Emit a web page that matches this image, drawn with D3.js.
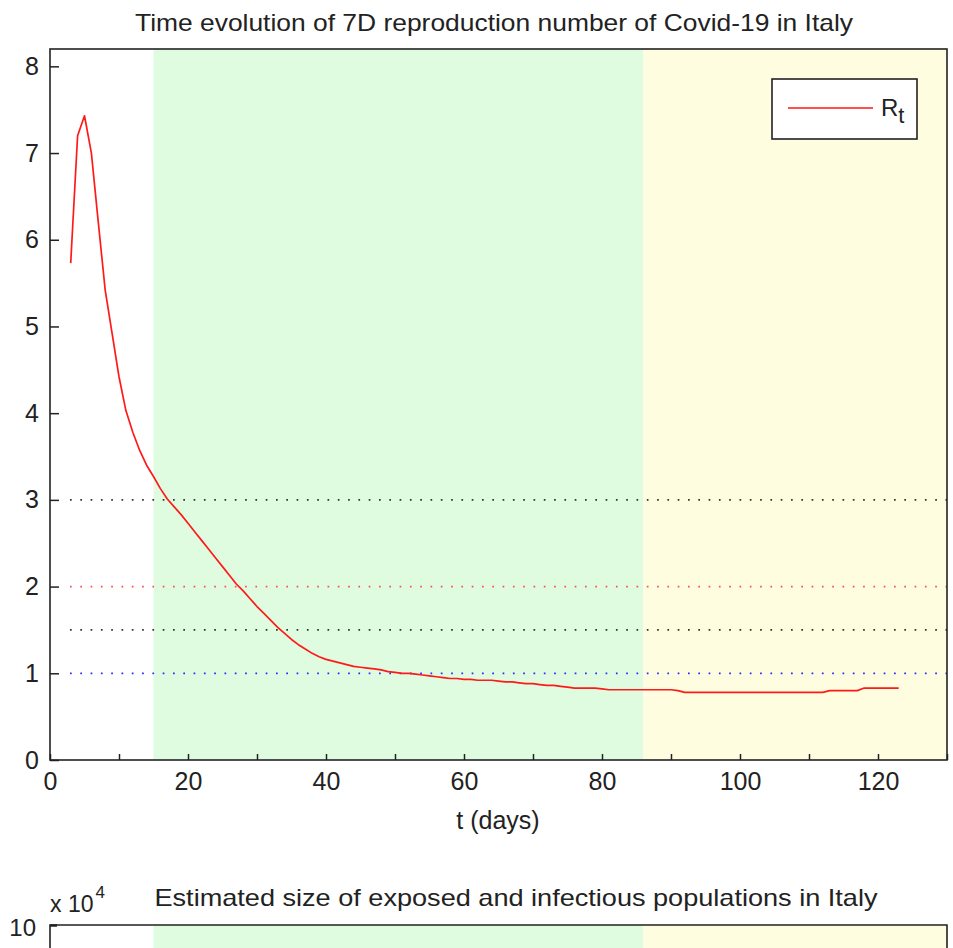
<!DOCTYPE html>
<html>
<head>
<meta charset="utf-8">
<script src="https://cdnjs.cloudflare.com/ajax/libs/d3/7.8.5/d3.min.js"></script>
<style>
  html, body { margin: 0; padding: 0; background: #ffffff; }
  svg { display: block; }
  text { font-family: "Liberation Sans", Arial, sans-serif; fill: #222; }
</style>
</head>
<body>
<svg id="fig" width="953" height="948"></svg>
<script>
// Days of the series (t) and the estimated reproduction number R_t
const days = d3.range(3, 124);
const rt = [
  5.73, 7.20, 7.43, 7.00, 6.20, 5.42, 4.92, 4.42, 4.03, 3.78,
  3.57, 3.40, 3.27, 3.13, 3.01, 2.92, 2.83, 2.73, 2.63, 2.53,
  2.43, 2.33, 2.23, 2.13, 2.03, 1.95, 1.86, 1.77, 1.69, 1.61,
  1.53, 1.46, 1.39, 1.33, 1.28, 1.23, 1.19, 1.16, 1.14, 1.12,
  1.10, 1.08, 1.07, 1.06, 1.05, 1.04, 1.02, 1.01, 1.00, 1.00,
  0.99, 0.98, 0.97, 0.96, 0.95, 0.94, 0.94, 0.93, 0.93, 0.92,
  0.92, 0.92, 0.91, 0.90, 0.90, 0.89, 0.88, 0.88, 0.87, 0.86,
  0.86, 0.85, 0.84, 0.83, 0.83, 0.83, 0.83, 0.82, 0.81, 0.81,
  0.81, 0.81, 0.81, 0.81, 0.81, 0.81, 0.81, 0.81, 0.80, 0.78,
  0.78, 0.78, 0.78, 0.78, 0.78, 0.78, 0.78, 0.78, 0.78, 0.78,
  0.78, 0.78, 0.78, 0.78, 0.78, 0.78, 0.78, 0.78, 0.78, 0.78,
  0.80, 0.80, 0.80, 0.80, 0.80, 0.83, 0.83, 0.83, 0.83, 0.83,
  0.83
];

// Shaded phases along the time axis
const phaseStart = [15, 86];
const phaseEnd = [86, 130];
const phaseColor = ["#e0fce0", "#fffde0"];

// Reference levels drawn as dotted lines
const refLevels = [3, 2, 1.5, 1];
const refColors = ["#333333", "#ff5050", "#333333", "#2a2aff"];

// Axis ticks
const xTicks = d3.range(0, 131, 10);
const yTicks = [0, 1, 2, 3, 4, 5, 6, 7, 8];

const titleTop = "Time evolution of 7D reproduction number of Covid-19 in Italy";
const titleBottom = "Estimated size of exposed and infectious populations in Italy";
const xLabel = "t (days)";

const svg = d3.select("#fig");

// ---------- upper panel ----------
const x = d3.scaleLinear().domain([0, 130]).range([50, 947]);
const y = d3.scaleLinear().domain([0, 8.2]).range([760, 49]);

const upper = svg.append("g");

upper.selectAll("rect.phase")
  .data(phaseStart)
  .join("rect")
  .attr("class", "phase")
  .attr("x", (d) => x(d))
  .attr("y", y(8.2))
  .attr("width", (d, i) => x(phaseEnd[i]) - x(d))
  .attr("height", y(0) - y(8.2))
  .attr("fill", (d, i) => phaseColor[i]);

upper.selectAll("line.ref")
  .data(refLevels)
  .join("line")
  .attr("class", "ref")
  .attr("x1", x(0) + 20)
  .attr("x2", x(130))
  .attr("y1", (d) => y(d))
  .attr("y2", (d) => y(d))
  .attr("stroke", (d, i) => refColors[i])
  .attr("stroke-width", 1.7)
  .attr("stroke-dasharray", "1.7 8.6");

const line = d3.line()
  .x((d, i) => x(days[i]))
  .y((d) => y(d));

upper.append("path")
  .datum(rt)
  .attr("d", line)
  .attr("fill", "none")
  .attr("stroke", "#ff1a1a")
  .attr("stroke-width", 1.7)
  .attr("stroke-linejoin", "round");

// axes with inward ticks
const xAxis = d3.axisBottom(x)
  .tickValues(xTicks)
  .tickSizeInner(-6)
  .tickSizeOuter(0)
  .tickFormat((d) => (d % 20 === 0 ? String(d) : ""));
const gx = upper.append("g").attr("transform", `translate(0,${y(0)})`).call(xAxis);
gx.select(".domain").remove();
gx.selectAll(".tick line").attr("stroke", "#222").attr("stroke-width", 1.5);
gx.selectAll(".tick text")
  .attr("y", 12)
  .attr("dy", "0.71em")
  .style("font-size", "25px")
  .style("font-family", "\"Liberation Sans\", Arial, sans-serif")
  .attr("fill", "#222");

const yAxis = d3.axisLeft(y)
  .tickValues(yTicks)
  .tickSizeInner(-9)
  .tickSizeOuter(0)
  .tickFormat(d3.format("d"));
const gy = upper.append("g").attr("transform", `translate(${x(0)},0)`).call(yAxis);
gy.select(".domain").remove();
gy.selectAll(".tick line").attr("stroke", "#222").attr("stroke-width", 1.5);
gy.selectAll(".tick text")
  .attr("x", -11)
  .style("font-size", "25px")
  .style("font-family", "\"Liberation Sans\", Arial, sans-serif")
  .attr("fill", "#222");

// plot frame
upper.append("rect")
  .attr("x", x(0))
  .attr("y", y(8.2))
  .attr("width", x(130) - x(0))
  .attr("height", y(0) - y(8.2))
  .attr("fill", "none")
  .attr("stroke", "#222")
  .attr("stroke-width", 1.6);

// legend
const leg = upper.append("g");
leg.append("rect")
  .attr("x", 772).attr("y", 79)
  .attr("width", 145).attr("height", 60)
  .attr("fill", "#ffffff")
  .attr("stroke", "#222")
  .attr("stroke-width", 1.6);
leg.append("line")
  .attr("x1", 788).attr("x2", 873)
  .attr("y1", 108).attr("y2", 108)
  .attr("stroke", "#ff5050")
  .attr("stroke-width", 1.8);
const legText = leg.append("text")
  .attr("x", 881).attr("y", 116)
  .style("font-size", "24px");
legText.append("tspan").text("R");
legText.append("tspan").attr("dy", 7).style("font-size", "22px").text("t");

upper.append("text")
  .attr("x", 494).attr("y", 31)
  .attr("text-anchor", "middle")
  .attr("textLength", 718)
  .attr("lengthAdjust", "spacingAndGlyphs")
  .style("font-size", "24px")
  .text(titleTop);

upper.append("text")
  .attr("x", 498).attr("y", 829)
  .attr("text-anchor", "middle")
  .style("font-size", "25px")
  .text(xLabel);

// ---------- lower panel (top edge visible) ----------
const y2 = d3.scaleLinear().domain([0, 10]).range([1635, 925]);
const lower = svg.append("g");

lower.selectAll("rect.phase")
  .data(phaseStart)
  .join("rect")
  .attr("class", "phase")
  .attr("x", (d) => x(d))
  .attr("y", y2(10))
  .attr("width", (d, i) => x(phaseEnd[i]) - x(d))
  .attr("height", 60)
  .attr("fill", (d, i) => phaseColor[i]);

lower.append("path")
  .attr("d", `M${x(0)},${y2(10) + 60}V${y2(10)}H${x(130)}V${y2(10) + 60}`)
  .attr("fill", "none")
  .attr("stroke", "#222")
  .attr("stroke-width", 1.6);

const y2Axis = d3.axisLeft(y2)
  .tickValues([10])
  .tickSizeInner(-7)
  .tickSizeOuter(0)
  .tickFormat(d3.format("d"));
const gy2 = lower.append("g").attr("transform", `translate(${x(0)},0)`).call(y2Axis);
gy2.select(".domain").remove();
gy2.selectAll(".tick line").attr("stroke", "#222").attr("stroke-width", 2.5);
gy2.selectAll(".tick text")
  .attr("x", -14)
  .attr("dy", "0.45em")
  .style("font-size", "24px")
  .style("font-family", "\"Liberation Sans\", Arial, sans-serif")
  .attr("fill", "#222");

const mult = lower.append("text")
  .attr("x", 50).attr("y", 912)
  .style("font-size", "23px");
mult.append("tspan").text("x 10");
mult.append("tspan").attr("dy", -14).attr("dx", 2).style("font-size", "17px").text("4");

lower.append("text")
  .attr("x", 516).attr("y", 906)
  .attr("text-anchor", "middle")
  .attr("textLength", 723)
  .attr("lengthAdjust", "spacingAndGlyphs")
  .style("font-size", "24px")
  .text(titleBottom);
</script>
</body>
</html>
